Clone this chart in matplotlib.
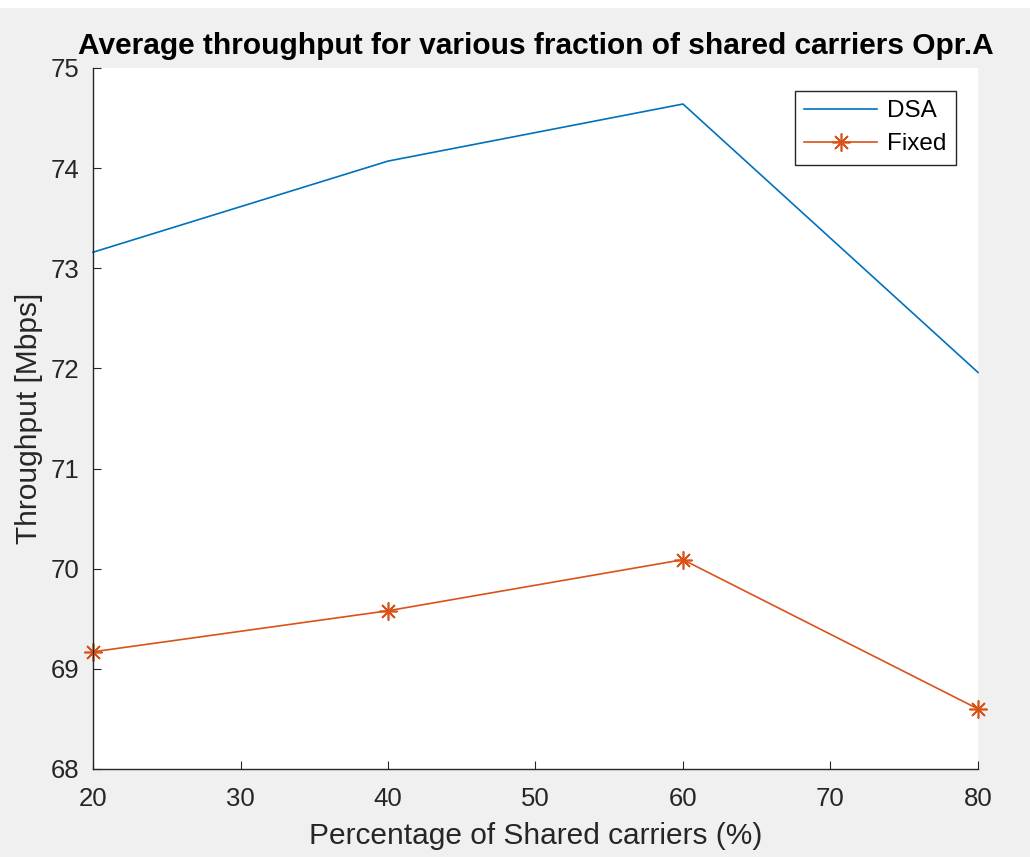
import matplotlib
matplotlib.use('Agg')
import matplotlib.pyplot as plt
from matplotlib.patches import Rectangle

share_pct = [20, 40, 60, 80]
dsa_tput = [73.16, 74.07, 74.64, 71.96]
fixed_tput = [69.17, 69.58, 70.09, 68.60]
yticks = [68, 69, 70, 71, 72, 73, 74, 75]
xticks = [20, 30, 40, 50, 60, 70, 80]

plt.rcParams['font.family'] = ['Liberation Sans', 'DejaVu Sans']

fig = plt.figure(figsize=(10.3, 8.57), dpi=100)
fig.patch.set_facecolor('#f0f0f0')
# thin white strip along the top edge
fig.patches.append(Rectangle((0, 0.991), 1, 0.009, transform=fig.transFigure,
                             facecolor='white', edgecolor='none', zorder=-1))
ax = fig.add_axes([0.0903, 0.1027, 0.8592, 0.818])
ax.set_facecolor('white')

ax.plot(share_pct, dsa_tput, color='#0072bd', lw=1.2, label='DSA', clip_on=False)
ax.plot(share_pct, fixed_tput, color='#d95319', lw=1.2, marker=(8, 2, 0),
        markersize=13, markeredgewidth=1.2, label='Fixed', clip_on=False)

ax.set_xlim(20, 80)
ax.set_ylim(68, 75)
ax.set_xticks(xticks)
ax.set_yticks(yticks)
ax.tick_params(direction='in', length=6, labelsize=18.5, colors='#262626')
ax.tick_params(axis='x', pad=13)
ax.tick_params(axis='y', pad=10)
for s in ['top', 'right']:
    ax.spines[s].set_visible(False)
for s in ['left', 'bottom']:
    ax.spines[s].set_color('#262626')
    ax.spines[s].set_linewidth(1.0)

ax.set_xlabel('Percentage of Shared carriers (%)', fontsize=21.5, color='#262626', labelpad=8)
ax.set_ylabel('Throughput [Mbps]', fontsize=21.5, color='#262626', labelpad=5)
ax.set_title('Average throughput for various fraction of shared carriers Opr.A',
             fontsize=21.5, fontweight='bold', pad=10)

leg = ax.legend(loc='upper right', bbox_to_anchor=(0.989, 0.985), fontsize=17.5,
                fancybox=False, edgecolor='#262626', framealpha=1,
                handlelength=3.0, borderpad=0.4, labelspacing=0.45,
                handletextpad=0.4)
leg.get_frame().set_linewidth(1.0)

fig.savefig('out.png', dpi=100, facecolor=fig.get_facecolor())
